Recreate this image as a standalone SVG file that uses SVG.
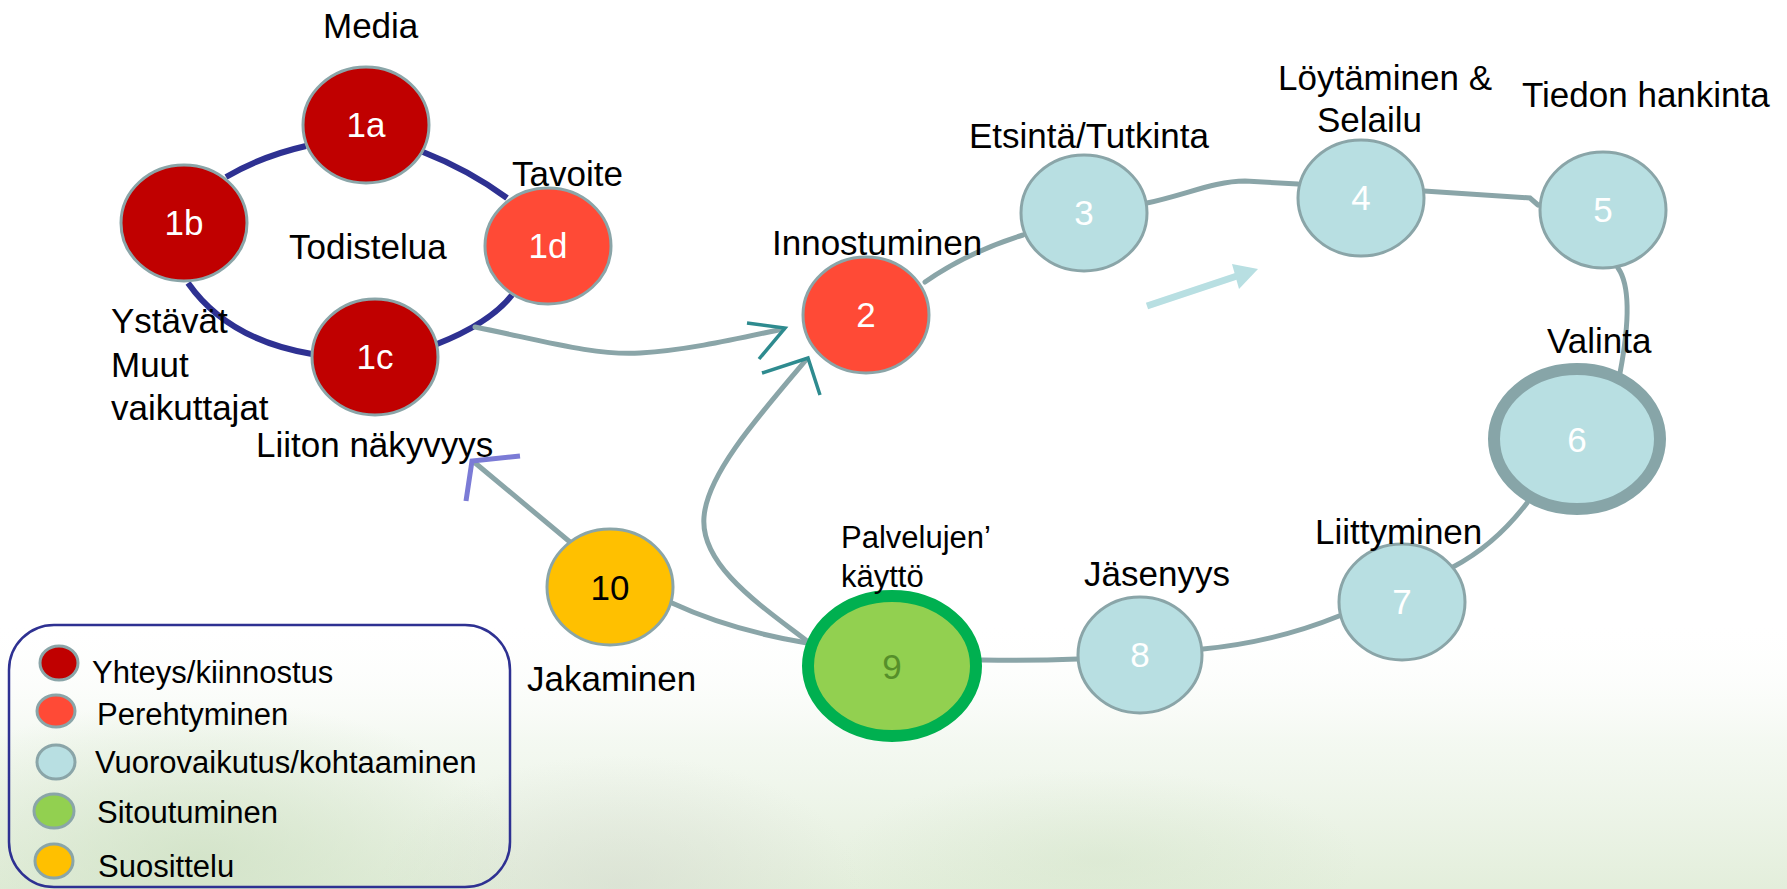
<svg xmlns="http://www.w3.org/2000/svg" width="1787" height="889" viewBox="0 0 1787 889">
<defs>
<linearGradient id="bgGrad" x1="0" y1="0" x2="0" y2="1">
<stop offset="0" stop-color="#ffffff" stop-opacity="0"/>
<stop offset="0.45" stop-color="#f1f7ee" stop-opacity="0.8"/>
<stop offset="1" stop-color="#e3eedb"/>
</linearGradient>
<radialGradient id="blob1" cx="0.5" cy="0.5" r="0.5">
<stop offset="0" stop-color="#cfe1c4" stop-opacity="0.8"/>
<stop offset="1" stop-color="#cfe1c4" stop-opacity="0"/>
</radialGradient>
<radialGradient id="blob2" cx="0.5" cy="0.5" r="0.5">
<stop offset="0" stop-color="#d6dcd0" stop-opacity="0.6"/>
<stop offset="1" stop-color="#d6dcd0" stop-opacity="0"/>
</radialGradient>
<style>
.lbl{font-family:"Liberation Sans",Arial,sans-serif;font-size:35px;fill:#000}
.lgd{font-family:"Liberation Sans",Arial,sans-serif;font-size:31px;fill:#000}
.num{font-family:"Liberation Sans",Arial,sans-serif;font-size:35px;fill:#fff;text-anchor:middle}
.node{stroke:#8aa5a8;stroke-width:3}
.dred{fill:#c00000}
.red{fill:#ff4a36}
.blue{fill:#b8dfe2}
.conn{fill:none;stroke:#8aa5a8;stroke-width:5;stroke-linecap:round}
.ring{fill:none;stroke:#2e3192;stroke-width:6}
.chev{fill:none;stroke:#2e8b8f;stroke-width:3.5}
</style>
</defs>

<g id="background">
<rect x="0" y="620" width="1787" height="269" fill="url(#bgGrad)"/>
<ellipse cx="620" cy="885" rx="240" ry="130" fill="url(#blob2)"/>
<ellipse cx="200" cy="860" rx="320" ry="160" fill="url(#blob1)"/>
<ellipse cx="1100" cy="860" rx="260" ry="90" fill="url(#blob1)" opacity="0.5"/>
</g>

<g id="connectors">
<path class="ring" d="M226,177 Q262,156 306,146"/>
<path class="ring" d="M423,152 Q469,170 507,198"/>
<path class="ring" d="M512,295 Q490,323 437,344"/>
<path class="ring" d="M312,354 Q228,340 188,283"/>
<path class="conn" d="M475,327 C540,340 595,356 640,353 C690,350 740,338 783,329"/>
<polyline class="chev" points="747,323 785,328 759,359"/>
<path class="conn" d="M807,641 C760,605 700,565 704,517 C707,475 755,420 806,360"/>
<polyline class="chev" points="762,373 808,358 820,395"/>
<path class="conn" d="M925,282 Q968,252 1023,235"/>
<path class="conn" d="M1147,203 C1185,195 1215,181 1245,181 L1298,184"/>
<path class="conn" d="M1424,191 L1530,198 L1538,205"/>
<path class="conn" d="M1618,268 C1630,285 1630,320 1620,373"/>
<path class="conn" d="M1527,503 Q1495,545 1453,567"/>
<path class="conn" d="M1339,616 Q1275,642 1203,649"/>
<path class="conn" d="M1078,659 Q1030,661 982,660"/>
<path class="conn" d="M807,643 Q730,630 672,603"/>
<path class="conn" d="M570,542 L474,462"/>
<polyline fill="none" stroke="#7b7bd6" stroke-width="5" points="520,456 472,461 466,501"/>
<path fill="none" stroke="#b8dfe2" stroke-width="7" d="M1147,306 L1240,275"/>
<polygon fill="#b8dfe2" points="1232,264 1258,269 1239,289"/>
</g>

<g id="node-1a">
<ellipse class="node dred" cx="366" cy="125" rx="63" ry="58"/>
<text class="num" x="366" y="137">1a</text>
<text class="lbl" x="323" y="38">Media</text>
</g>
<g id="node-1b">
<ellipse class="node dred" cx="184" cy="223" rx="63" ry="58"/>
<text class="num" x="184" y="235">1b</text>
</g>
<g id="node-1c">
<ellipse class="node dred" cx="375" cy="357" rx="63" ry="58"/>
<text class="num" x="375" y="369">1c</text>
<text class="lbl" x="111" y="333">Ystävät</text>
<text class="lbl" x="111" y="377">Muut</text>
<text class="lbl" x="111" y="420">vaikuttajat</text>
</g>
<g id="node-1d">
<ellipse class="node red" cx="548" cy="246" rx="63" ry="58"/>
<text class="num" x="548" y="258">1d</text>
<text class="lbl" x="512" y="186">Tavoite</text>
</g>
<g id="label-todistelua">
<text class="lbl" x="289" y="259">Todistelua</text>
</g>
<g id="label-liiton">
<text class="lbl" x="256" y="457">Liiton näkyvyys</text>
</g>
<g id="node-2">
<ellipse class="node red" cx="866" cy="315" rx="63" ry="58"/>
<text class="num" x="866" y="327">2</text>
<text class="lbl" x="772" y="255">Innostuminen</text>
</g>
<g id="node-3">
<ellipse class="node blue" cx="1084" cy="213" rx="63" ry="58"/>
<text class="num" x="1084" y="225">3</text>
<text class="lbl" x="969" y="148">Etsintä/Tutkinta</text>
</g>
<g id="node-4">
<ellipse class="node blue" cx="1361" cy="198" rx="63" ry="58"/>
<text class="num" x="1361" y="210">4</text>
<text class="lbl" x="1278" y="90">Löytäminen &amp;</text>
<text class="lbl" x="1317" y="132">Selailu</text>
</g>
<g id="node-5">
<ellipse class="node blue" cx="1603" cy="210" rx="63" ry="58"/>
<text class="num" x="1603" y="222">5</text>
<text class="lbl" x="1522" y="107">Tiedon hankinta</text>
</g>
<g id="node-6">
<ellipse cx="1577" cy="439" rx="83" ry="70" fill="#b8dfe2" stroke="#87a5a8" stroke-width="12"/>
<text class="num" x="1577" y="452">6</text>
<text class="lbl" x="1547" y="353">Valinta</text>
</g>
<g id="node-7">
<ellipse class="node blue" cx="1402" cy="602" rx="63" ry="58"/>
<text class="num" x="1402" y="614">7</text>
<text class="lbl" x="1315" y="544">Liittyminen</text>
</g>
<g id="node-8">
<ellipse class="node blue" cx="1140" cy="655" rx="62" ry="58"/>
<text class="num" x="1140" y="667">8</text>
<text class="lbl" x="1084" y="586">Jäsenyys</text>
</g>
<g id="node-9">
<ellipse cx="892" cy="666" rx="84" ry="70" fill="#92d050" stroke="#00b050" stroke-width="12"/>
<text class="num" x="892" y="679" style="fill:#568f2a">9</text>
<text class="lgd" x="841" y="548">Palvelujen’</text>
<text class="lgd" x="841" y="587">käyttö</text>
</g>
<g id="node-10">
<ellipse class="node" cx="610" cy="587" rx="63" ry="58" fill="#ffc000"/>
<text class="num" x="610" y="600" style="fill:#000">10</text>
<text class="lbl" x="527" y="691">Jakaminen</text>
</g>

<g id="legend">
<rect x="9" y="625" width="501" height="262" rx="45" ry="45" fill="none" stroke="#2e3192" stroke-width="2.5"/>
<ellipse class="node dred" cx="59" cy="663" rx="19" ry="17"/>
<text class="lgd" x="92" y="683">Yhteys/kiinnostus</text>
<ellipse class="node red" cx="56" cy="711" rx="19" ry="16"/>
<text class="lgd" x="97" y="725">Perehtyminen</text>
<ellipse class="node blue" cx="56" cy="762" rx="19" ry="17"/>
<text class="lgd" x="95" y="773">Vuorovaikutus/kohtaaminen</text>
<ellipse class="node" cx="54" cy="811" rx="20" ry="17" fill="#92d050"/>
<text class="lgd" x="97" y="823">Sitoutuminen</text>
<ellipse class="node" cx="54" cy="861" rx="19" ry="17" fill="#ffc000"/>
<text class="lgd" x="98" y="877">Suosittelu</text>
</g>
</svg>
